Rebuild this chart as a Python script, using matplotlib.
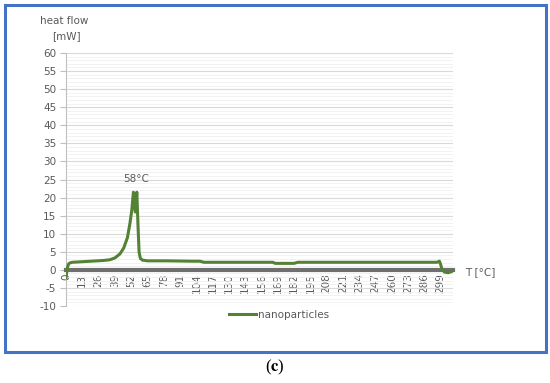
import matplotlib
matplotlib.use("Agg")
import matplotlib.pyplot as plt
from matplotlib.patches import Rectangle
from matplotlib.ticker import MultipleLocator

# temperature [°C] and heat flow [mW]
temps = [0, 1, 2, 3, 5, 10, 20, 30, 35, 39, 43, 46, 49, 51, 52.5, 53.8, 55.3, 56.5,
         57.5, 58.3, 59.3, 61, 65, 80, 100, 107, 110, 140, 165, 167, 182, 185,
         200, 250, 296, 298, 299, 300, 302, 305, 309]
heat_flow = [-2.2, 0.5, 1.6, 1.9, 2.1, 2.2, 2.4, 2.6, 2.8, 3.3, 4.4, 6.0, 8.9, 12.8,
             16.5, 21.5, 16.0, 21.5, 12.0, 5.0, 3.2, 2.7, 2.5, 2.5, 2.4, 2.4, 2.1,
             2.1, 2.1, 1.8, 1.8, 2.1, 2.1, 2.1, 2.1, 2.4, 1.5, 0.2, -0.6, -0.8, -0.3]
x_ticks = list(range(0, 300, 13))
y_ticks = list(range(-10, 61, 5))

series_label = "nanoparticles"
peak_label = "58°C"

grey = "#595959"
plt.rcParams["font.family"] = ["DejaVu Sans"]
plt.rcParams["axes.unicode_minus"] = False
plt.rcParams["mathtext.fontset"] = "stix"

fig = plt.figure(figsize=(5.5, 3.83), dpi=100)
ax = fig.add_axes([0.12, 0.201, 0.704, 0.6606])

ax.plot(temps, heat_flow, color="#548235", lw=2.2, label=series_label,
        solid_joinstyle="round", zorder=3)

ax.set_xlim(0, 309)
ax.set_ylim(-10, 60)
ax.set_xticks(x_ticks)
ax.set_yticks(y_ticks)
ax.yaxis.set_minor_locator(MultipleLocator(1))
ax.grid(axis="y", which="major", color="#d9d9d9", lw=0.8)
ax.grid(axis="y", which="minor", color="#f0f0f0", lw=0.6)
ax.set_axisbelow(True)

for s in ["top", "right"]:
    ax.spines[s].set_visible(False)
ax.spines["left"].set_color("#bfbfbf")
ax.spines["left"].set_linewidth(0.8)
ax.spines["bottom"].set_position(("data", 0))
ax.spines["bottom"].set_color("#6f6f6f")
ax.spines["bottom"].set_linewidth(3.0)
ax.spines["bottom"].set_zorder(2.5)

ax.tick_params(axis="y", which="major", length=4, color="#bfbfbf",
               labelsize=7.5, labelcolor=grey, pad=3)
ax.tick_params(axis="y", which="minor", length=0)
ax.tick_params(axis="x", length=0, labelsize=7.5, labelcolor=grey,
               labelrotation=90, pad=2.5)

ax.text(56, 23.8, peak_label, ha="center", va="bottom", fontsize=7.5, color=grey)

fig.text(40 / 550, 1 - 21 / 383, "heat flow", fontsize=7.5, color=grey, va="center")
fig.text(52 / 550, 1 - 36 / 383, "[mW]", fontsize=7.5, color=grey, va="center")
fig.text(465 / 550, 1 - 272 / 383, "T [°C]", fontsize=7.5, color=grey, va="center")

leg = ax.legend(loc="center", bbox_to_anchor=(0.507, 1 - 315 / 383),
                bbox_transform=fig.transFigure, frameon=False, fontsize=7.5,
                handlelength=2.6, handletextpad=0.2)
for t in leg.get_texts():
    t.set_color(grey)

# blue frame around the chart
fig.patches.append(Rectangle((5 / 550, 1 - 352 / 383), 541 / 550, 347 / 383,
                             transform=fig.transFigure, fill=False,
                             edgecolor="#4472c4", lw=2.2))

fig.text(275 / 550, 1 - 367 / 383, r"($\mathbf{c}$)", ha="center", va="center",
         fontsize=12, family="Liberation Serif")

fig.savefig("out.png", dpi=100)
